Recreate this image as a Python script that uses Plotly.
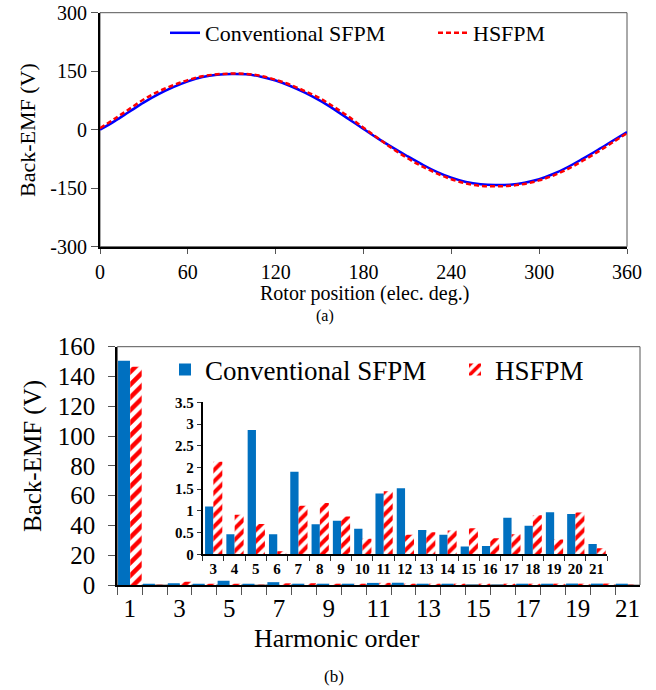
import plotly.graph_objects as go

W, H = 656, 690

# ---------------- data: (a) back-EMF waveform ----------------
rotor_position = [0, 10, 20, 30, 40, 50, 60, 70, 80, 90, 100, 110, 120, 130, 140, 150, 160, 170, 180,
                  190, 200, 210, 220, 230, 240, 250, 260, 270, 280, 290, 300, 310, 320, 330, 340, 350, 360]
emf_conventional = [0, 22, 46, 70, 91, 109, 124, 135, 141, 143, 142, 136, 126, 112, 95, 75, 52, 27, 2,
                    -23, -46, -68, -89, -108, -123, -134, -140, -142, -141, -136, -127, -113, -95, -74, -52, -29, -6]
emf_hsfpm = [4, 28, 53, 78, 98, 114, 127, 137, 142, 144, 143, 138, 128, 115, 99, 81, 58, 33, 5,
             -22, -49, -73, -94, -112, -127, -138, -144, -145, -144, -139, -130, -117, -100, -79, -57, -33, -9]
emf_ticks = [-300, -150, 0, 150, 300]
emf_tick_text = ["-300", "-150", "0", "150", "300"]
position_ticks = [0, 60, 120, 180, 240, 300, 360]

# ---------------- data: (b) harmonics ----------------
harmonic_order = [str(h) for h in range(1, 22)]
harm_conventional = [150.5, 0.5, 1.10, 0.46, 2.86, 0.46, 1.90, 0.69, 0.77, 0.59, 1.40, 1.52,
                     0.56, 0.45, 0.18, 0.19, 0.84, 0.66, 0.97, 0.93, 0.24]
harm_hsfpm = [146.5, 0.1, 2.13, 0.91, 0.70, 0.07, 1.12, 1.18, 0.87, 0.36, 1.45, 0.45,
              0.51, 0.55, 0.60, 0.37, 0.46, 0.90, 0.34, 0.96, 0.14]
main_tick_text = [h if int(h) % 2 == 1 else "" for h in harmonic_order]

SERIF = "Liberation Serif"
BLUE_LINE = "#0000FF"
RED = "#FF0000"
BAR_BLUE = "#0070C0"


def px(x):
    return x / W


def py(y):
    return 1 - y / H


fig = go.Figure()

# (a) lines
fig.add_trace(go.Scatter(x=rotor_position, y=emf_conventional, mode="lines", name="Conventional SFPM",
                         line=dict(color=BLUE_LINE, width=2.5, shape="spline"),
                         xaxis="x", yaxis="y", legend="legend"))
fig.add_trace(go.Scatter(x=rotor_position, y=emf_hsfpm, mode="lines", name="HSFPM",
                         line=dict(color=RED, width=2.5, dash="5px,3px", shape="spline"),
                         xaxis="x", yaxis="y", legend="legend2"))

red_pattern = dict(shape="/", fgcolor=RED, bgcolor="white", size=9, solidity=0.5, fillmode="replace")

# (b) main bars
fig.add_trace(go.Bar(x=harmonic_order, y=harm_conventional, name="Conventional SFPM",
                     marker=dict(color=BAR_BLUE, line=dict(width=0)),
                     offset=-0.47, width=0.48, xaxis="x2", yaxis="y2", legend="legend3"))
fig.add_trace(go.Bar(x=harmonic_order, y=harm_hsfpm, name="HSFPM",
                     marker=dict(color="white", pattern=red_pattern, line=dict(width=0)),
                     offset=0.02, width=0.46, xaxis="x2", yaxis="y2", legend="legend4"))

# inset bars (harmonics 3..21)
fig.add_trace(go.Bar(x=harmonic_order[2:], y=harm_conventional[2:], showlegend=False,
                     marker=dict(color=BAR_BLUE, line=dict(width=0)),
                     offset=-0.38, width=0.39, xaxis="x3", yaxis="y3"))
fig.add_trace(go.Bar(x=harmonic_order[2:], y=harm_hsfpm[2:], showlegend=False,
                     marker=dict(color="white", pattern=dict(red_pattern, size=8), line=dict(width=0)),
                     offset=0.01, width=0.42, xaxis="x3", yaxis="y3"))

tick_font_a = dict(family=SERIF, size=20, color="black")
tick_font_b = dict(family=SERIF, size=25, color="black")
inset_font = dict(family=SERIF, size=15, color="black", weight="bold")

common = dict(showgrid=False, zeroline=False, showline=True, linecolor="black", automargin=False,
              ticklabeloverflow="allow")


def note(text, x, y, size, angle=0):
    return dict(text=text, x=px(x), y=py(y), xref="paper", yref="paper", textangle=angle,
                xanchor="center", yanchor="middle", showarrow=False,
                font=dict(family=SERIF, size=size, color="black"))


fig.update_layout(
    width=W, height=H,
    margin=dict(l=0, r=0, t=0, b=0, autoexpand=False),
    paper_bgcolor="white", plot_bgcolor="white",
    barmode="overlay",
    xaxis=dict(common, domain=[px(100), px(627)], range=[0, 360], tickmode="array", tickvals=position_ticks,
               linewidth=2, ticks="outside", ticklen=5, tickcolor="#555", tickwidth=1,
               ticklabelstandoff=1, tickfont=tick_font_a, tickangle=0, anchor="y"),
    yaxis=dict(common, domain=[py(246.7), py(12.7)], range=[-300, 300], tickmode="array",
               tickvals=emf_ticks, ticktext=emf_tick_text,
               linewidth=2, ticks="outside", ticklen=7, tickcolor="#555", tickwidth=1,
               tickfont=tick_font_a, anchor="x"),
    xaxis2=dict(common, domain=[px(117.3), px(640)], type="category", tickmode="array",
                tickvals=harmonic_order, ticktext=main_tick_text, tickson="boundaries",
                linewidth=2, ticks="outside", ticklen=8, tickcolor="#555", tickwidth=1,
                tickfont=tick_font_b, tickangle=0, anchor="y2"),
    yaxis2=dict(common, domain=[py(585), py(346.7)], range=[0, 160], dtick=20,
                linewidth=2, ticks="outside", ticklen=7, tickcolor="#555", tickwidth=1,
                ticklabelstandoff=8, tickfont=tick_font_b, anchor="x2"),
    xaxis3=dict(common, domain=[px(202.5), px(607.2)], type="category", tickson="boundaries",
                linewidth=1.5, ticks="outside", ticklen=5, tickcolor="#333", tickwidth=1,
                tickfont=inset_font, tickangle=0, anchor="y3"),
    yaxis3=dict(common, domain=[py(554.3), py(402.3)], range=[0, 3.5], dtick=0.5,
                linewidth=1.5, ticks="outside", ticklen=4, tickcolor="#333", tickwidth=1,
                tickfont=inset_font, anchor="x3"),
    legend=dict(x=px(165), y=py(33), xanchor="left", yanchor="middle", bgcolor="rgba(0,0,0,0)",
                font=dict(family=SERIF, size=22, color="black")),
    legend2=dict(x=px(433), y=py(33), xanchor="left", yanchor="middle", bgcolor="rgba(0,0,0,0)",
                 font=dict(family=SERIF, size=22, color="black")),
    legend3=dict(x=px(165), y=py(370), xanchor="left", yanchor="middle", bgcolor="rgba(0,0,0,0)",
                 font=dict(family=SERIF, size=27, color="black")),
    legend4=dict(x=px(455), y=py(370), xanchor="left", yanchor="middle", bgcolor="rgba(0,0,0,0)",
                 font=dict(family=SERIF, size=27, color="black")),
    shapes=[
        dict(type="rect", xref="x domain", yref="y domain", x0=0, x1=1, y0=0, y1=1,
             line=dict(color="#555", width=1), layer="below"),
        dict(type="rect", xref="x2 domain", yref="y2 domain", x0=0, x1=1, y0=0, y1=1,
             line=dict(color="#555", width=1), layer="below"),
    ],
    annotations=[
        note("Back-EMF (V)", 28, 130, 22, -90),
        note("Rotor position (elec. deg.)", 364, 293, 20),
        note("(a)", 325, 316, 16),
        note("Back-EMF (V)", 33, 456, 25, -90),
        note("Harmonic order", 337, 638, 26),
        note("(b)", 334, 676, 17),
    ],
)

# the page body's default 8px margin would shift the fixed-size figure; remove it
fig.write_html("out.html", config={"displayModeBar": False},
               post_script="document.body.style.margin='0px';")
